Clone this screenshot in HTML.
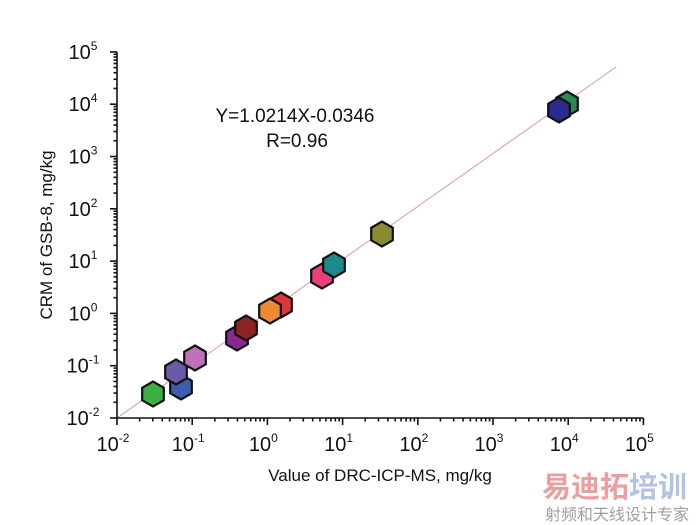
<!DOCTYPE html>
<html><head><meta charset="utf-8"><style>
html,body{margin:0;padding:0;background:#fff;}
svg{display:block;font-family:"Liberation Sans",Arial,sans-serif;}
</style></head><body>
<svg id="s" width="700" height="525" viewBox="0 0 700 525" xmlns="http://www.w3.org/2000/svg">
<line x1="117" y1="418" x2="616" y2="67" stroke="#d89a9a" stroke-width="1"/>
<g id="ax" stroke="#111" stroke-width="1.6" fill="none"></g>
<g id="pts" stroke="#111" stroke-width="2.2"></g>
<g id="lbl" fill="#111" font-size="20"></g>
<text x="295" y="122" font-size="19" text-anchor="middle" fill="#111">Y=1.0214X-0.0346</text>
<text x="297" y="147" font-size="19" text-anchor="middle" fill="#111">R=0.96</text>
<text x="380" y="481" font-size="17" text-anchor="middle" fill="#111">Value of DRC-ICP-MS, mg/kg</text>
<text transform="translate(52,235) rotate(-90)" font-size="17" text-anchor="middle" fill="#111">CRM of GSB-8, mg/kg</text>
<text x="542" y="497" font-size="29" font-weight="bold" fill="#e88080" opacity="0.75" font-family="'Noto Sans CJK SC',sans-serif">易迪拓<tspan fill="#9ab0d8">培训</tspan></text>
<text x="545" y="520" font-size="16" fill="#777" opacity="0.7" font-family="'Noto Sans CJK SC',sans-serif">射频和天线设计专家</text>
</svg>
<script>
var NS="http://www.w3.org/2000/svg";
function el(p,t,a,txt){var e=document.createElementNS(NS,t);for(var k in a)e.setAttribute(k,a[k]);if(txt!=null)e.textContent=txt;document.getElementById(p).appendChild(e);return e;}
var X0=117,Y0=418,DX=75.2,DY=52.3;
el('ax','line',{x1:X0,y1:Y0,x2:X0+7*DX,y2:Y0});
el('ax','line',{x1:X0,y1:Y0,x2:X0,y2:Y0-7*DY});
for(var d=-2;d<=5;d++){
  var x=X0+(d+2)*DX,y=Y0-(d+2)*DY;
  el('ax','line',{x1:x,y1:Y0,x2:x,y2:Y0+7});
  el('ax','line',{x1:X0,y1:y,x2:X0-7,y2:y});
  var t=el('lbl','text',{x:x-4,y:Y0+33,'text-anchor':'middle'});t.innerHTML='10<tspan dy="-9" font-size="12">'+d+'</tspan>';
  var t2=el('lbl','text',{x:X0-34,y:y+7,'text-anchor':'middle'});t2.innerHTML='10<tspan dy="-9" font-size="12">'+d+'</tspan>';
  if(d<5)for(var m=2;m<=9;m++){var o=Math.log10(m);
    el('ax','line',{x1:x+o*DX,y1:Y0,x2:x+o*DX,y2:Y0+3.5});
    el('ax','line',{x1:X0,y1:y-o*DY,x2:X0-3.5,y2:y-o*DY});}
}
var P=[[153,394,'#3cb043'],[181,387,'#3a5fb0'],[176,372,'#6a5aa8'],[195,358,'#c070b8'],[237,338,'#8a2a90'],[246,328,'#8b2525'],[281,305,'#e03535'],[270,311,'#f08a30'],[322,276,'#e8407a'],[334,265,'#1a8a8a'],[382,234,'#8a8a30'],[567,104,'#2a8a50'],[559,110,'#2a2a90']];
P.forEach(function(p){var r=12.5,s=[];for(var i=0;i<6;i++){var a=Math.PI/3*i-Math.PI/2;s.push((p[0]+r*Math.cos(a)).toFixed(1)+','+(p[1]+r*Math.sin(a)).toFixed(1));}
el('pts','polygon',{points:s.join(' '),fill:p[2]});});
</script>
</body></html>
